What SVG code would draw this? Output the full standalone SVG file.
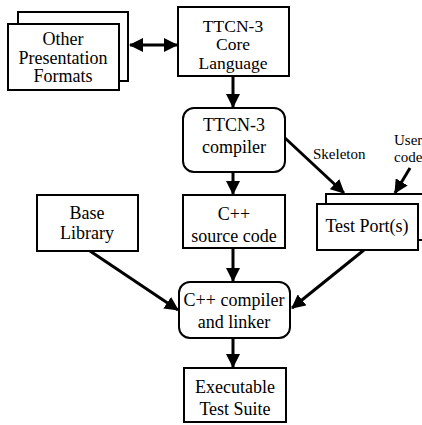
<svg xmlns="http://www.w3.org/2000/svg" width="422" height="425" viewBox="0 0 422 425">
<defs>
<marker id="ah" markerUnits="userSpaceOnUse" markerWidth="14" markerHeight="14" viewBox="0 0 14 14" refX="13" refY="7" orient="auto">
<path d="M0,0 L14,7 L0,14 z" fill="#000"/>
</marker>
<marker id="ahs" markerUnits="userSpaceOnUse" markerWidth="14" markerHeight="14" viewBox="0 0 14 14" refX="1" refY="7" orient="auto">
<path d="M14,0 L0,7 L14,14 z" fill="#000"/>
</marker>
</defs>
<rect width="422" height="425" fill="#fff"/>
<g id="connectors" stroke="#000" stroke-width="3" fill="none" marker-end="url(#ah)">
<line x1="130" y1="45" x2="177" y2="45" marker-start="url(#ahs)"/>
<line x1="233" y1="76" x2="233" y2="107"/>
<line x1="233" y1="172" x2="233" y2="194"/>
<line x1="285" y1="138" x2="344" y2="193"/>
<line x1="410" y1="168" x2="395" y2="193"/>
<line x1="90" y1="251" x2="178" y2="310"/>
<line x1="233" y1="248" x2="233" y2="281"/>
<line x1="364" y1="250" x2="292" y2="308"/>
<line x1="233" y1="338" x2="233" y2="367"/>
</g>
<g id="other-formats">
<rect x="18" y="12" width="110" height="69" fill="#fff" stroke="#000" stroke-width="2"/>
<rect x="8" y="24" width="111" height="66" fill="#fff" stroke="#000" stroke-width="2"/>
<text x="63" y="45" font-family="Liberation Serif" font-size="18" text-anchor="middle">Other</text>
<text x="63" y="63.5" font-family="Liberation Serif" font-size="18" text-anchor="middle">Presentation</text>
<text x="63" y="82" font-family="Liberation Serif" font-size="18" text-anchor="middle">Formats</text>
</g>
<g id="core-language">
<rect x="178" y="7" width="111" height="69" fill="#fff" stroke="#000" stroke-width="2"/>
<text x="233" y="31.5" font-family="Liberation Serif" font-size="17.5" text-anchor="middle">TTCN-3</text>
<text x="233" y="50" font-family="Liberation Serif" font-size="17.5" text-anchor="middle">Core</text>
<text x="233" y="68.5" font-family="Liberation Serif" font-size="17.5" text-anchor="middle">Language</text>
</g>
<g id="ttcn-compiler">
<rect x="183" y="108" width="102" height="64" rx="11" fill="#fff" stroke="#000" stroke-width="2"/>
<text x="234" y="131" font-family="Liberation Serif" font-size="18" text-anchor="middle">TTCN-3</text>
<text x="234" y="153" font-family="Liberation Serif" font-size="18" text-anchor="middle">compiler</text>
</g>
<g id="cpp-source">
<rect x="183" y="195" width="102" height="53" fill="#fff" stroke="#000" stroke-width="2"/>
<text x="234" y="220" font-family="Liberation Serif" font-size="18" text-anchor="middle">C++</text>
<text x="234" y="242" font-family="Liberation Serif" font-size="18" text-anchor="middle">source code</text>
</g>
<g id="test-ports">
<rect x="326" y="194" width="110" height="46" fill="#fff" stroke="#000" stroke-width="2"/>
<rect x="317" y="204" width="101" height="46" fill="#fff" stroke="#000" stroke-width="2"/>
<text x="367" y="232" font-family="Liberation Serif" font-size="18" text-anchor="middle">Test Port(s)</text>
</g>
<g id="labels">
<text x="313" y="159" font-family="Liberation Serif" font-size="15">Skeleton</text>
<text x="394" y="145" font-family="Liberation Serif" font-size="15">User</text>
<text x="394" y="162" font-family="Liberation Serif" font-size="15">code</text>
</g>
<g id="base-library">
<rect x="37" y="195" width="101" height="56" fill="#fff" stroke="#000" stroke-width="2"/>
<text x="87" y="219" font-family="Liberation Serif" font-size="18" text-anchor="middle">Base</text>
<text x="87" y="239" font-family="Liberation Serif" font-size="18" text-anchor="middle">Library</text>
</g>
<g id="cpp-compiler">
<rect x="179" y="282" width="111" height="56" rx="11" fill="#fff" stroke="#000" stroke-width="2"/>
<text x="234" y="306" font-family="Liberation Serif" font-size="18" text-anchor="middle">C++ compiler</text>
<text x="234" y="328" font-family="Liberation Serif" font-size="18" text-anchor="middle">and linker</text>
</g>
<g id="executable">
<rect x="184" y="368" width="102" height="54" fill="#fff" stroke="#000" stroke-width="2"/>
<text x="235" y="393" font-family="Liberation Serif" font-size="18" text-anchor="middle">Executable</text>
<text x="235" y="415" font-family="Liberation Serif" font-size="18" text-anchor="middle">Test Suite</text>
</g>
</svg>
